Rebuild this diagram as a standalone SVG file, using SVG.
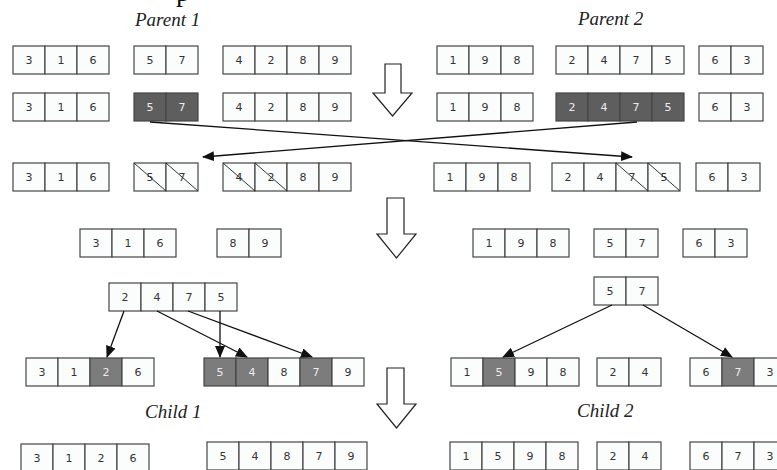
<svg xmlns="http://www.w3.org/2000/svg" width="777" height="470" viewBox="0 0 777 470">
<defs>
<style>
.c{fill:#fbfcfc;stroke:#454545;stroke-width:1.2}
.g{fill:#5e5e5e;stroke:#454545;stroke-width:1.2}
.g2{fill:#7c7c7c;stroke:#454545;stroke-width:1.2}
.t{font-family:"DejaVu Sans",Verdana,sans-serif;font-size:11px;fill:#333;text-anchor:middle}
.w{fill:#ececec}
.lbl{font-family:"Liberation Serif","Times New Roman",serif;font-style:italic;font-size:19px;fill:#222}
.d{stroke:#333;stroke-width:1}
.ln{stroke:#111;stroke-width:1.3;fill:none}
.big{fill:#fff;stroke:#222;stroke-width:1.2}
</style>
<marker id="ah" markerUnits="userSpaceOnUse" markerWidth="12" markerHeight="10" refX="11" refY="5" orient="auto">
<path d="M0,0 L12,5 L0,10 z" fill="#111"/>
</marker>
</defs>
<rect width="777" height="470" fill="#fff"/>
<text x="176" y="1" style="font-family:'Liberation Serif',serif;font-size:28px;fill:#111">p</text>
<text class="lbl" x="135" y="26">Parent 1</text>
<text class="lbl" x="578" y="25">Parent 2</text>
<text class="lbl" x="145" y="418">Child 1</text>
<text class="lbl" x="577" y="417">Child 2</text>

<!-- Row 1 -->
<g id="r1a"><rect class="c" x="13" y="46" width="32" height="28"/><rect class="c" x="45" y="46" width="32" height="28"/><rect class="c" x="77" y="46" width="32" height="28"/><text class="t" x="29" y="64">3</text><text class="t" x="61" y="64">1</text><text class="t" x="93" y="64">6</text></g>
<g id="r1b"><rect class="c" x="134" y="46" width="32" height="28"/><rect class="c" x="166" y="46" width="32" height="28"/><text class="t" x="150" y="64">5</text><text class="t" x="182" y="64">7</text></g>
<g id="r1c"><rect class="c" x="223" y="46" width="32" height="28"/><rect class="c" x="255" y="46" width="32" height="28"/><rect class="c" x="287" y="46" width="32" height="28"/><rect class="c" x="319" y="46" width="32" height="28"/><text class="t" x="239" y="64">4</text><text class="t" x="271" y="64">2</text><text class="t" x="303" y="64">8</text><text class="t" x="335" y="64">9</text></g>
<g id="r1d"><rect class="c" x="437" y="46" width="32" height="28"/><rect class="c" x="469" y="46" width="32" height="28"/><rect class="c" x="501" y="46" width="32" height="28"/><text class="t" x="453" y="64">1</text><text class="t" x="485" y="64">9</text><text class="t" x="517" y="64">8</text></g>
<g id="r1e"><rect class="c" x="556" y="46" width="32" height="28"/><rect class="c" x="588" y="46" width="32" height="28"/><rect class="c" x="620" y="46" width="32" height="28"/><rect class="c" x="652" y="46" width="32" height="28"/><text class="t" x="572" y="64">2</text><text class="t" x="604" y="64">4</text><text class="t" x="636" y="64">7</text><text class="t" x="668" y="64">5</text></g>
<g id="r1f"><rect class="c" x="699" y="46" width="32" height="28"/><rect class="c" x="731" y="46" width="32" height="28"/><text class="t" x="715" y="64">6</text><text class="t" x="747" y="64">3</text></g>

<!-- Row 2 -->
<g id="r2a"><rect class="c" x="13" y="93" width="32" height="28"/><rect class="c" x="45" y="93" width="32" height="28"/><rect class="c" x="77" y="93" width="32" height="28"/><text class="t" x="29" y="111">3</text><text class="t" x="61" y="111">1</text><text class="t" x="93" y="111">6</text></g>
<g id="r2b"><rect class="g" x="134" y="93" width="32" height="28"/><rect class="g" x="166" y="93" width="32" height="28"/><text class="t w" x="150" y="111">5</text><text class="t w" x="182" y="111">7</text></g>
<g id="r2c"><rect class="c" x="223" y="93" width="32" height="28"/><rect class="c" x="255" y="93" width="32" height="28"/><rect class="c" x="287" y="93" width="32" height="28"/><rect class="c" x="319" y="93" width="32" height="28"/><text class="t" x="239" y="111">4</text><text class="t" x="271" y="111">2</text><text class="t" x="303" y="111">8</text><text class="t" x="335" y="111">9</text></g>
<g id="r2d"><rect class="c" x="437" y="93" width="32" height="28"/><rect class="c" x="469" y="93" width="32" height="28"/><rect class="c" x="501" y="93" width="32" height="28"/><text class="t" x="453" y="111">1</text><text class="t" x="485" y="111">9</text><text class="t" x="517" y="111">8</text></g>
<g id="r2e"><rect class="g" x="556" y="93" width="32" height="28"/><rect class="g" x="588" y="93" width="32" height="28"/><rect class="g" x="620" y="93" width="32" height="28"/><rect class="g" x="652" y="93" width="32" height="28"/><text class="t w" x="572" y="111">2</text><text class="t w" x="604" y="111">4</text><text class="t w" x="636" y="111">7</text><text class="t w" x="668" y="111">5</text></g>
<g id="r2f"><rect class="c" x="699" y="93" width="32" height="28"/><rect class="c" x="731" y="93" width="32" height="28"/><text class="t" x="715" y="111">6</text><text class="t" x="747" y="111">3</text></g>

<!-- Row 3 -->
<g id="r3a"><rect class="c" x="13" y="163" width="32" height="28"/><rect class="c" x="45" y="163" width="32" height="28"/><rect class="c" x="77" y="163" width="32" height="28"/><text class="t" x="29" y="181">3</text><text class="t" x="61" y="181">1</text><text class="t" x="93" y="181">6</text></g>
<g id="r3b"><rect class="c" x="134" y="163" width="32" height="28"/><rect class="c" x="166" y="163" width="32" height="28"/><text class="t" x="150" y="181">5</text><text class="t" x="182" y="181">7</text><line class="d" x1="134" y1="163" x2="166" y2="191"/><line class="d" x1="166" y1="163" x2="198" y2="191"/></g>
<g id="r3c"><rect class="c" x="223" y="163" width="32" height="28"/><rect class="c" x="255" y="163" width="32" height="28"/><rect class="c" x="287" y="163" width="32" height="28"/><rect class="c" x="319" y="163" width="32" height="28"/><text class="t" x="239" y="181">4</text><text class="t" x="271" y="181">2</text><text class="t" x="303" y="181">8</text><text class="t" x="335" y="181">9</text><line class="d" x1="223" y1="163" x2="255" y2="191"/><line class="d" x1="255" y1="163" x2="287" y2="191"/></g>
<g id="r3d"><rect class="c" x="434" y="163" width="32" height="28"/><rect class="c" x="466" y="163" width="32" height="28"/><rect class="c" x="498" y="163" width="32" height="28"/><text class="t" x="450" y="181">1</text><text class="t" x="482" y="181">9</text><text class="t" x="514" y="181">8</text></g>
<g id="r3e"><rect class="c" x="552" y="163" width="32" height="28"/><rect class="c" x="584" y="163" width="32" height="28"/><rect class="c" x="616" y="163" width="32" height="28"/><rect class="c" x="648" y="163" width="32" height="28"/><text class="t" x="568" y="181">2</text><text class="t" x="600" y="181">4</text><text class="t" x="632" y="181">7</text><text class="t" x="664" y="181">5</text><line class="d" x1="616" y1="163" x2="648" y2="191"/><line class="d" x1="648" y1="163" x2="680" y2="191"/></g>
<g id="r3f"><rect class="c" x="696" y="163" width="32" height="28"/><rect class="c" x="728" y="163" width="32" height="28"/><text class="t" x="712" y="181">6</text><text class="t" x="744" y="181">3</text></g>

<!-- Row 4 -->
<g id="r4a"><rect class="c" x="80" y="229" width="32" height="28"/><rect class="c" x="112" y="229" width="32" height="28"/><rect class="c" x="144" y="229" width="32" height="28"/><text class="t" x="96" y="247">3</text><text class="t" x="128" y="247">1</text><text class="t" x="160" y="247">6</text></g>
<g id="r4b"><rect class="c" x="217" y="229" width="32" height="28"/><rect class="c" x="249" y="229" width="32" height="28"/><text class="t" x="233" y="247">8</text><text class="t" x="265" y="247">9</text></g>
<g id="r4c"><rect class="c" x="473" y="229" width="32" height="28"/><rect class="c" x="505" y="229" width="32" height="28"/><rect class="c" x="537" y="229" width="32" height="28"/><text class="t" x="489" y="247">1</text><text class="t" x="521" y="247">9</text><text class="t" x="553" y="247">8</text></g>
<g id="r4d"><rect class="c" x="594" y="229" width="32" height="28"/><rect class="c" x="626" y="229" width="32" height="28"/><text class="t" x="610" y="247">5</text><text class="t" x="642" y="247">7</text></g>
<g id="r4e"><rect class="c" x="683" y="229" width="32" height="28"/><rect class="c" x="715" y="229" width="32" height="28"/><text class="t" x="699" y="247">6</text><text class="t" x="731" y="247">3</text></g>

<!-- Row 5 -->
<g id="r5a"><rect class="c" x="109" y="283" width="32" height="28"/><rect class="c" x="141" y="283" width="32" height="28"/><rect class="c" x="173" y="283" width="32" height="28"/><rect class="c" x="205" y="283" width="32" height="28"/><text class="t" x="125" y="301">2</text><text class="t" x="157" y="301">4</text><text class="t" x="189" y="301">7</text><text class="t" x="221" y="301">5</text></g>
<g id="r5b"><rect class="c" x="594" y="277" width="32" height="28"/><rect class="c" x="626" y="277" width="32" height="28"/><text class="t" x="610" y="295">5</text><text class="t" x="642" y="295">7</text></g>

<!-- Row 6 -->
<g id="r6a"><rect class="c" x="26" y="358" width="32" height="28"/><rect class="c" x="58" y="358" width="32" height="28"/><rect class="g2" x="90" y="358" width="32" height="28"/><rect class="c" x="122" y="358" width="32" height="28"/><text class="t" x="42" y="376">3</text><text class="t" x="74" y="376">1</text><text class="t w" x="106" y="376">2</text><text class="t" x="138" y="376">6</text></g>
<g id="r6b"><rect class="g2" x="204" y="358" width="32" height="28"/><rect class="g2" x="236" y="358" width="32" height="28"/><rect class="c" x="268" y="358" width="32" height="28"/><rect class="g2" x="300" y="358" width="32" height="28"/><rect class="c" x="332" y="358" width="32" height="28"/><text class="t w" x="220" y="376">5</text><text class="t w" x="252" y="376">4</text><text class="t" x="284" y="376">8</text><text class="t w" x="316" y="376">7</text><text class="t" x="348" y="376">9</text></g>
<g id="r6c"><rect class="c" x="451" y="358" width="32" height="28"/><rect class="g2" x="483" y="358" width="32" height="28"/><rect class="c" x="515" y="358" width="32" height="28"/><rect class="c" x="547" y="358" width="32" height="28"/><text class="t" x="467" y="376">1</text><text class="t w" x="499" y="376">5</text><text class="t" x="531" y="376">9</text><text class="t" x="563" y="376">8</text></g>
<g id="r6d"><rect class="c" x="597" y="358" width="32" height="28"/><rect class="c" x="629" y="358" width="32" height="28"/><text class="t" x="613" y="376">2</text><text class="t" x="645" y="376">4</text></g>
<g id="r6e"><rect class="c" x="690" y="358" width="32" height="28"/><rect class="g2" x="722" y="358" width="32" height="28"/><rect class="c" x="754" y="358" width="32" height="28"/><text class="t" x="706" y="376">6</text><text class="t w" x="738" y="376">7</text><text class="t" x="770" y="376">3</text></g>

<!-- Row 7 -->
<g id="r7a"><rect class="c" x="21" y="444" width="32" height="28"/><rect class="c" x="53" y="444" width="32" height="28"/><rect class="c" x="85" y="444" width="32" height="28"/><rect class="c" x="117" y="444" width="32" height="28"/><text class="t" x="37" y="462">3</text><text class="t" x="69" y="462">1</text><text class="t" x="101" y="462">2</text><text class="t" x="133" y="462">6</text></g>
<g id="r7b"><rect class="c" x="207" y="442" width="32" height="28"/><rect class="c" x="239" y="442" width="32" height="28"/><rect class="c" x="271" y="442" width="32" height="28"/><rect class="c" x="303" y="442" width="32" height="28"/><rect class="c" x="335" y="442" width="32" height="28"/><text class="t" x="223" y="460">5</text><text class="t" x="255" y="460">4</text><text class="t" x="287" y="460">8</text><text class="t" x="319" y="460">7</text><text class="t" x="351" y="460">9</text></g>
<g id="r7c"><rect class="c" x="450" y="442" width="32" height="28"/><rect class="c" x="482" y="442" width="32" height="28"/><rect class="c" x="514" y="442" width="32" height="28"/><rect class="c" x="546" y="442" width="32" height="28"/><text class="t" x="466" y="460">1</text><text class="t" x="498" y="460">5</text><text class="t" x="530" y="460">9</text><text class="t" x="562" y="460">8</text></g>
<g id="r7d"><rect class="c" x="597" y="442" width="32" height="28"/><rect class="c" x="629" y="442" width="32" height="28"/><text class="t" x="613" y="460">2</text><text class="t" x="645" y="460">4</text></g>
<g id="r7e"><rect class="c" x="690" y="442" width="32" height="28"/><rect class="c" x="722" y="442" width="32" height="28"/><rect class="c" x="754" y="442" width="32" height="28"/><text class="t" x="706" y="460">6</text><text class="t" x="738" y="460">7</text><text class="t" x="770" y="460">3</text></g>

<!-- Big step arrows -->
<g id="step1"><polygon class="big" points="385,64 401,64 401,93 412,93 392.5,116 373,93 385,93"/></g>
<g id="step2"><polygon class="big" points="387,198 404,198 404,234 416,234 396.5,258 377,234 387,234"/></g>
<g id="step3"><polygon class="big" points="387,368 404,368 404,404 416,404 396.5,428 377,404 387,404"/></g>

<!-- Connectors -->
<g id="connectors">
<line class="ln" x1="150" y1="122" x2="632" y2="157" marker-end="url(#ah)"/>
<line class="ln" x1="637" y1="122" x2="203" y2="157" marker-end="url(#ah)"/>
<line class="ln" x1="124" y1="311" x2="107" y2="357" marker-end="url(#ah)"/>
<line class="ln" x1="157" y1="311" x2="247" y2="357" marker-end="url(#ah)"/>
<line class="ln" x1="220" y1="311" x2="220" y2="357" marker-end="url(#ah)"/>
<line class="ln" x1="188" y1="311" x2="312" y2="357" marker-end="url(#ah)"/>
<line class="ln" x1="612" y1="305" x2="503" y2="357" marker-end="url(#ah)"/>
<line class="ln" x1="643" y1="305" x2="732" y2="357" marker-end="url(#ah)"/>
</g>
</svg>
